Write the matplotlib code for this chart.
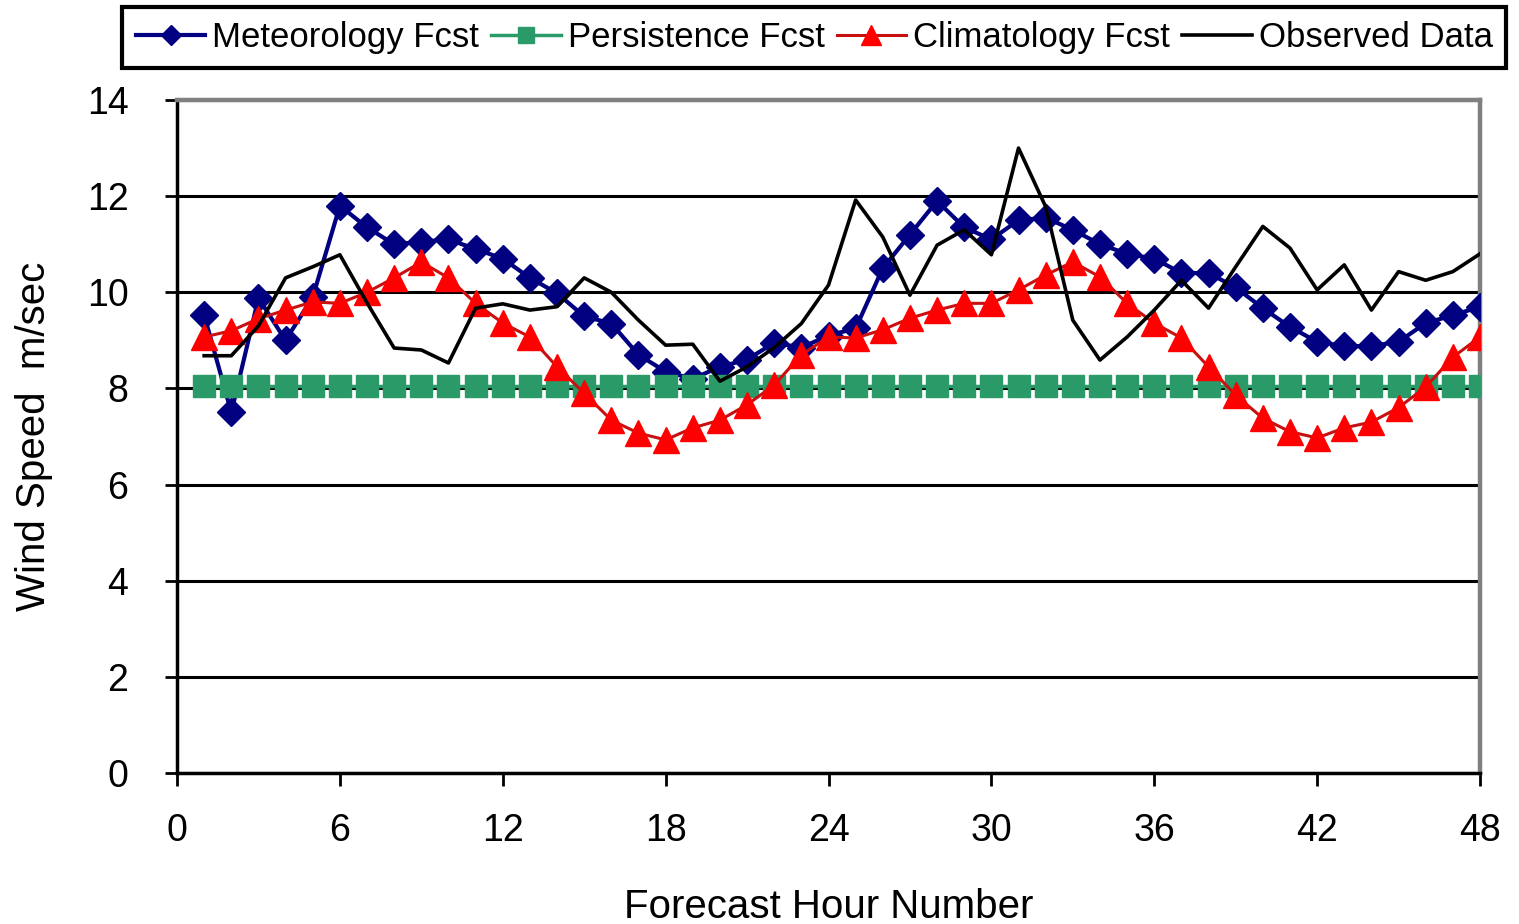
import matplotlib
matplotlib.use("Agg")
import matplotlib.pyplot as plt
import numpy as np

plt.rcParams["font.family"] = ["Liberation Sans", "DejaVu Sans"]

hours = np.arange(1, 49)

# wind speed (m/sec), hours 1..48
met_fcst = [9.53, 7.5, 9.88, 9.0, 9.9, 11.8, 11.35, 11.0, 11.05, 11.1, 10.9, 10.7,
            10.3, 9.98, 9.5, 9.35, 8.7, 8.35, 8.2, 8.45, 8.6, 8.95, 8.85, 9.1,
            9.25, 10.5, 11.2, 11.9, 11.35, 11.1, 11.5, 11.55, 11.3, 11.0, 10.8, 10.7,
            10.4, 10.4, 10.1, 9.67, 9.28, 8.97, 8.88, 8.88, 8.97, 9.36, 9.52, 9.7]
pers_fcst = [8.05] * 48
clim_fcst = [9.07, 9.2, 9.45, 9.63, 9.8, 9.77, 10.0, 10.3, 10.63, 10.3, 9.77, 9.36,
             9.07, 8.45, 7.9, 7.34, 7.07, 6.93, 7.18, 7.34, 7.66, 8.07, 8.7, 9.07,
             9.05, 9.22, 9.46, 9.63, 9.77, 9.77, 10.05, 10.36, 10.63, 10.32, 9.77, 9.36,
             9.05, 8.45, 7.86, 7.38, 7.1, 6.97, 7.18, 7.3, 7.6, 8.03, 8.65, 9.07]
observed = [8.68, 8.68, 9.3, 10.3, 10.53, 10.78, 9.78, 8.84, 8.8, 8.53, 9.67, 9.76,
            9.63, 9.7, 10.3, 10.0, 9.42, 8.9, 8.92, 8.15, 8.45, 8.85, 9.35, 10.15,
            11.92, 11.15, 9.94, 10.98, 11.3, 10.78, 13.0, 11.78, 9.42, 8.59, 9.07, 9.63,
            10.25, 9.67, 10.53, 11.37, 10.92, 10.05, 10.57, 9.63, 10.43, 10.25, 10.43, 10.8]

labels = ["Meteorology Fcst", "Persistence Fcst", "Climatology Fcst", "Observed Data"]

fig = plt.figure(figsize=(15.19, 9.24), dpi=100)
ax = fig.add_axes((177/1519, 1 - 773/924, (1480 - 177)/1519, (773 - 100)/924))

h_met, = ax.plot(hours, met_fcst, color="#000080", lw=3.0, marker="D", ms=14,
                 mfc="#000080", mec="#000080", zorder=3)
h_pers, = ax.plot(hours, pers_fcst, color="#2A9B68", lw=2.5, marker="s", ms=15.5,
                  mfc="#2A9B68", mec="#2A9B68", zorder=4)
h_clim, = ax.plot(hours, clim_fcst, color="#C81010", lw=2.2, marker="^", ms=19,
                  mfc="#FF0000", mec="#FF0000", zorder=5)
h_obs, = ax.plot(hours, observed, color="black", lw=2.6, zorder=6)

ax.set_xlim(0, 48)
ax.set_ylim(0, 14)
ax.set_xticks(range(0, 49, 6))
ax.set_yticks(range(0, 15, 2))
ax.yaxis.grid(True, color="black", lw=2.2)
ax.set_axisbelow(True)

for side in ["left", "bottom"]:
    ax.spines[side].set_color("black")
    ax.spines[side].set_linewidth(2.5)
for side in ["top", "right"]:
    ax.spines[side].set_color("#808080")
    ax.spines[side].set_linewidth(3.2)

ax.tick_params(axis="both", direction="out", length=9, width=2, labelsize=27,
               color="black")
ax.tick_params(axis="x", pad=20)
ax.tick_params(axis="y", pad=26)

ax.set_xlabel("Forecast Hour Number", fontsize=29, labelpad=28)
ax.set_ylabel("Wind Speed  m/sec", fontsize=29, labelpad=24)

leg = fig.legend([h_met, h_pers, h_clim, h_obs], labels, loc="upper left",
                 bbox_to_anchor=(122/1519, 1 - 7/924), ncol=4, fontsize=25,
                 handlelength=2.0, handletextpad=0.2, columnspacing=0.35,
                 borderpad=0.4, borderaxespad=0, markerscale=0.75,
                 fancybox=False, framealpha=1)
leg.get_frame().set_edgecolor("black")
leg.get_frame().set_linewidth(3)

fig.savefig("out.png", dpi=100, facecolor="white")
